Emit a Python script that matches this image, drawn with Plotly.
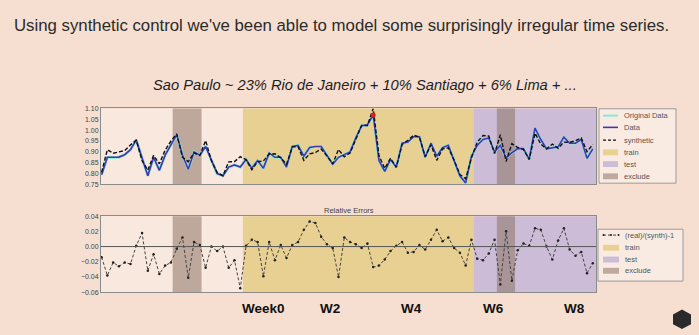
import plotly.graph_objects as go

# ---- data ----
days = list(range(86))
data = [0.795, 0.875, 0.875, 0.876, 0.887, 0.910, 0.955, 0.875, 0.790, 0.875,
        0.815, 0.885, 0.930, 0.980, 0.885, 0.820, 0.900, 0.885, 0.925, 0.860,
        0.800, 0.790, 0.830, 0.840, 0.830, 0.865, 0.825, 0.860, 0.825, 0.895,
        0.875, 0.875, 0.830, 0.925, 0.930, 0.880, 0.920, 0.925, 0.925, 0.884,
        0.843, 0.875, 0.888, 0.900, 0.965, 1.020, 1.025, 1.070, 0.860, 0.810,
        0.865, 0.830, 0.940, 0.945, 0.970, 0.970, 0.875, 0.940, 0.880, 0.920,
        0.930, 0.860, 0.790, 0.757, 0.880, 0.930, 0.957, 0.964, 0.900, 0.930,
        0.873, 0.896, 0.915, 0.915, 0.866, 1.010, 0.957, 0.914, 0.920, 0.923,
        0.968, 0.940, 0.940, 0.957, 0.870, 0.914]
original = data
synth = [0.806, 0.910, 0.894, 0.900, 0.906, 0.932, 0.954, 0.860, 0.816, 0.884,
         0.845, 0.908, 0.950, 0.983, 0.875, 0.855, 0.895, 0.883, 0.952, 0.860,
         0.805, 0.790, 0.854, 0.855, 0.878, 0.864, 0.818, 0.855, 0.858, 0.890,
         0.891, 0.873, 0.843, 0.923, 0.924, 0.861, 0.891, 0.897, 0.913, 0.881,
         0.845, 0.911, 0.877, 0.895, 0.962, 1.022, 1.021, 1.100, 0.882, 0.824,
         0.870, 0.829, 0.934, 0.953, 0.977, 0.968, 0.878, 0.932, 0.861, 0.914,
         0.919, 0.862, 0.796, 0.776, 0.872, 0.945, 0.975, 0.973, 0.892, 0.979,
         0.856, 0.938, 0.920, 0.911, 0.865, 0.986, 0.936, 0.914, 0.936, 0.916,
         0.945, 0.944, 0.951, 0.964, 0.901, 0.934]
rel_err = [-0.014, -0.038, -0.021, -0.026, -0.021, -0.023, 0.001, 0.018, -0.032, -0.010,
           -0.036, -0.025, -0.021, -0.003, 0.012, -0.041, 0.006, 0.002, -0.028, 0.000,
           -0.006, 0.000, -0.028, -0.018, -0.055, 0.001, 0.009, 0.006, -0.039, 0.006,
           -0.018, 0.002, -0.015, 0.002, 0.006, 0.022, 0.033, 0.031, 0.013, 0.003,
           -0.002, -0.040, 0.012, 0.006, 0.003, -0.002, 0.004, -0.027, -0.025, -0.017,
           -0.006, 0.001, 0.006, -0.008, -0.007, 0.002, -0.004, 0.009, 0.022, 0.007,
           0.012, -0.002, -0.008, -0.025, 0.009, -0.016, -0.018, -0.009, 0.009, -0.050,
           0.020, -0.045, -0.005, 0.004, 0.001, 0.024, 0.022, 0.000, -0.017, 0.008,
           0.024, -0.004, -0.012, -0.007, -0.035, -0.022]
outlier_day = [47]
outlier_val = [1.070]

train_span = [24.45, 64.35]
test_span = [64.35, 85.6]
exclude_spans = [[12.3, 17.3], [68.4, 71.55]]

top_ticks = [0.75, 0.80, 0.85, 0.90, 0.95, 1.00, 1.05, 1.10]
err_ticks = [-0.06, -0.04, -0.02, 0.00, 0.02, 0.04]
week_labels = ["Week0", "W2", "W4", "W6", "W8"]
week_pos = [0.3767, 0.4717, 0.5884, 0.7057, 0.8226]
top_legend_labels = ["Original Data", "Data", "synthetic", "train", "test", "exclude"]
err_legend_labels = ["(real)/(synth)-1", "train", "test", "exclude"]

# ---- styles ----
W, H = 699, 335
BG = "#f6dfd0"
PLOT_BG = "#f9e8de"
TRAIN = "rgba(226,200,120,0.75)"
TEST = "rgba(196,180,214,0.85)"
EXCL = "rgba(140,115,100,0.55)"
CYAN = "#8ae8d4"
BLUE = "#4236b4"
FONT = "Liberation Sans"


def px(x):
    return x / W


def py(y):
    return 1 - y / H


fig = go.Figure()

fig.add_trace(go.Scatter(x=days, y=original, mode="lines", name="Original Data",
                         line=dict(color=CYAN, width=2.8), xaxis="x", yaxis="y"))
fig.add_trace(go.Scatter(x=days, y=data, mode="lines", name="Data",
                         line=dict(color=BLUE, width=1.6), xaxis="x", yaxis="y"))
fig.add_trace(go.Scatter(x=days, y=synth, mode="lines", name="synthetic",
                         line=dict(color="#111111", width=1.4, dash="4px,2px"),
                         xaxis="x", yaxis="y"))
fig.add_trace(go.Scatter(x=outlier_day, y=outlier_val, mode="markers",
                         marker=dict(color="#d42020", size=5), xaxis="x", yaxis="y"))
fig.add_trace(go.Scatter(x=days, y=rel_err, mode="lines+markers", name="(real)/(synth)-1",
                         line=dict(color="#444444", width=1, dash="3px,2px"),
                         marker=dict(color="#222222", size=2.5), xaxis="x2", yaxis="y2"))

shapes = []
for xr_, yr_ in [("x", "y domain"), ("x2", "y2 domain")]:
    shapes.append(dict(type="rect", xref=xr_, yref=yr_, x0=train_span[0], x1=train_span[1],
                       y0=0, y1=1, fillcolor=TRAIN, line=dict(width=0), layer="below"))
    shapes.append(dict(type="rect", xref=xr_, yref=yr_, x0=test_span[0], x1=test_span[1],
                       y0=0, y1=1, fillcolor=TEST, line=dict(width=0), layer="below"))
    for a, b in exclude_spans:
        shapes.append(dict(type="rect", xref=xr_, yref=yr_, x0=a, x1=b, y0=0, y1=1,
                           fillcolor=EXCL, line=dict(width=0), layer="below"))
shapes.append(dict(type="line", xref="x2 domain", yref="y2", x0=0, x1=1, y0=0, y1=0,
                   line=dict(color="#555555", width=1)))
# small logo mark
shapes.append(dict(type="path", xref="paper", yref="paper",
                   path="M %f %f L %f %f L %f %f L %f %f L %f %f L %f %f Z" % (
                       px(682), py(312), px(691), py(317), px(691), py(327),
                       px(682), py(332), px(673), py(327), px(673), py(317)),
                   fillcolor="#2a2a2a", line=dict(width=0)))

annotations = [
    dict(text="Using synthetic control we've been able to model some surprisingly irregular time series.",
         xref="paper", yref="paper", x=px(12), y=py(22), xanchor="left", yanchor="middle",
         showarrow=False, font=dict(family=FONT, size=16.8, color="#2b2b2b")),
    dict(text="<i>Sao Paulo ~ 23% Rio de Janeiro + 10% Santiago + 6% Lima + ...</i>",
         xref="paper", yref="paper", x=px(365), y=py(83), xanchor="center", yanchor="middle",
         showarrow=False, font=dict(family=FONT, size=14.7, color="#1e1e1e")),
    dict(text="Relative Errors", xref="paper", yref="paper", x=0.4986, y=py(211),
         xanchor="center", yanchor="middle", showarrow=False,
         font=dict(family=FONT, size=7.5, color="#444444")),
]
for lab, pos in zip(week_labels, week_pos):
    annotations.append(dict(text="<b>%s</b>" % lab, xref="paper", yref="paper", x=pos, y=0.072,
                            xanchor="center", yanchor="middle", showarrow=False,
                            font=dict(family=FONT, size=13.5, color="#111111")))

# ---- hand-drawn legends (matplotlib style, compact rows) ----
LEG_BG = "#f9eae2"
LEG_BORDER = "#9a9a9a"
LEG_FONT = dict(family=FONT, size=7.5, color="#555555")


def legend_box(x0, x1, y0, y1):
    shapes.append(dict(type="rect", xref="paper", yref="paper", x0=px(x0), x1=px(x1),
                       y0=py(y1), y1=py(y0), fillcolor=LEG_BG,
                       line=dict(color=LEG_BORDER, width=1)))


def legend_text(x, y, txt):
    annotations.append(dict(text=txt, xref="paper", yref="paper", x=px(x), y=py(y),
                            xanchor="left", yanchor="middle", showarrow=False, font=LEG_FONT))


def legend_line(x0, x1, y, color, width, dash="solid"):
    shapes.append(dict(type="line", xref="paper", yref="paper", x0=px(x0), x1=px(x1),
                       y0=py(y), y1=py(y), line=dict(color=color, width=width, dash=dash)))


def legend_patch(x0, x1, y, color):
    shapes.append(dict(type="rect", xref="paper", yref="paper", x0=px(x0), x1=px(x1),
                       y0=py(y + 3), y1=py(y - 3), fillcolor=color, line=dict(width=0)))


# top legend
legend_box(599, 676, 107, 183)
top_rows = [114, 126, 139, 151.5, 163.5, 176]
sym_x0, sym_x1, txt_x = 603, 618, 622
legend_line(sym_x0, sym_x1, top_rows[0], CYAN, 2)
legend_line(sym_x0, sym_x1, top_rows[1], BLUE, 1.6)
legend_line(sym_x0, sym_x1, top_rows[2], "#111111", 1.4, "3px,2px")
legend_patch(sym_x0, sym_x1, top_rows[3], TRAIN)
legend_patch(sym_x0, sym_x1, top_rows[4], TEST)
legend_patch(sym_x0, sym_x1, top_rows[5], EXCL)
for r, t in zip(top_rows, top_legend_labels):
    legend_text(txt_x, r, t)

# error legend
legend_box(598, 683, 230, 283)
err_rows = [236, 249, 261, 272.5]
legend_line(sym_x0, sym_x1 + 1, err_rows[0], "#444444", 1, "3px,2px")
for cx in (sym_x0 + 0.5, (sym_x0 + sym_x1) / 2 + 0.5, sym_x1 + 0.5):
    shapes.append(dict(type="circle", xref="paper", yref="paper",
                       x0=px(cx - 1), x1=px(cx + 1), y0=py(err_rows[0] + 1), y1=py(err_rows[0] - 1),
                       fillcolor="#222222", line=dict(width=0)))
legend_patch(sym_x0, sym_x1 + 1, err_rows[1], TRAIN)
legend_patch(sym_x0, sym_x1 + 1, err_rows[2], TEST)
legend_patch(sym_x0, sym_x1 + 1, err_rows[3], EXCL)
for r, t in zip(err_rows, err_legend_labels):
    legend_text(txt_x + 1, r, t)

axis_common = dict(showgrid=False, zeroline=False, showline=True, mirror=True,
                   linecolor="#8a8a8a", linewidth=1)
xr = [-0.1, 85.55]

fig.update_layout(
    width=W, height=H, margin=dict(l=0, r=0, t=0, b=0),
    paper_bgcolor=BG, plot_bgcolor=PLOT_BG, showlegend=False,
    font=dict(family=FONT, size=7, color="#444444"),
    xaxis=dict(domain=[0.1445, 0.8526], range=xr, showticklabels=False, ticks="", anchor="y",
               **axis_common),
    yaxis=dict(domain=[0.4499, 0.6815], range=[0.75, 1.10], tickvals=top_ticks,
               tickformat=".2f", ticks="", tickfont=dict(size=7, color="#444444"),
               anchor="x", **axis_common),
    xaxis2=dict(domain=[0.1445, 0.8526], range=xr, showticklabels=False, ticks="", anchor="y2",
                **axis_common),
    yaxis2=dict(domain=[0.1215, 0.3531], range=[-0.06, 0.04], tickvals=err_ticks,
                tickformat=".2f", ticks="", tickfont=dict(size=7, color="#444444"),
                anchor="x2", **axis_common),
    shapes=shapes, annotations=annotations,
)

fig.write_html("out.html")
